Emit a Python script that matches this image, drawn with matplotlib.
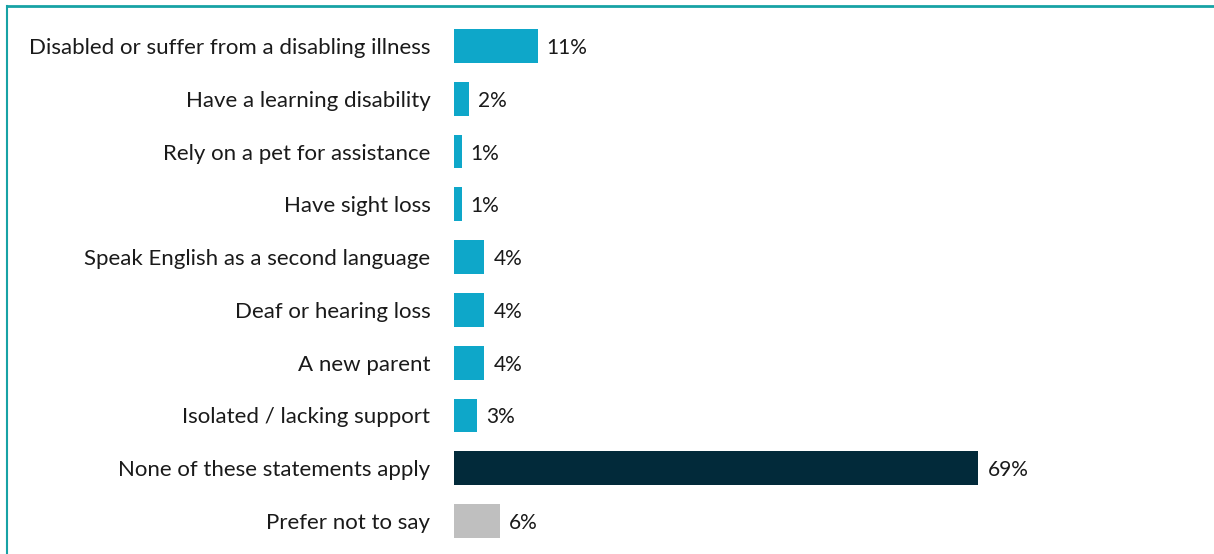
import matplotlib.pyplot as plt
from matplotlib.lines import Line2D

labels = ["Disabled or suffer from a disabling illness", "Have a learning disability",
          "Rely on a pet for assistance", "Have sight loss",
          "Speak English as a second language", "Deaf or hearing loss",
          "A new parent", "Isolated / lacking support",
          "None of these statements apply", "Prefer not to say"]
values = [11, 2, 1, 1, 4, 4, 4, 3, 69, 6]
colors = ["#0ea7c9"] * 8 + ["#022a3a", "#bfbfbf"]

plt.rcParams["font.family"] = ["Lato", "DejaVu Sans"]

W, H = 1214, 554
fig = plt.figure(figsize=(W / 100, H / 100), dpi=100)
ax = fig.add_axes([454 / W, (H - 547.4) / H, 760 / W, 527.8 / H])

y = list(range(len(labels)))
ax.barh(y, values, height=0.64, color=colors)
for yi, v in zip(y, values):
    ax.text(v + 1.2, yi, f"{v}%", va="center_baseline", ha="left", fontsize=15, color="#1a1a1a")

ax.set_xlim(0, 100)
ax.set_ylim(len(labels) - 0.5, -0.5)
ax.set_yticks(y)
ax.set_yticklabels(labels, fontsize=16, color="#1a1a1a", va="center_baseline")
ax.tick_params(axis="y", length=0, pad=17)
ax.set_xticks([])
for s in ax.spines.values():
    s.set_visible(False)

# teal frame (top and left)
fig.add_artist(Line2D([7 / W, 1], [1 - 5.5 / H, 1 - 5.5 / H], transform=fig.transFigure,
                      color="#17a2a5", lw=2))
fig.add_artist(Line2D([7 / W, 7 / W], [0, 1 - 5.5 / H], transform=fig.transFigure,
                      color="#17a2a5", lw=1.5))

fig.savefig("out.png", dpi=100)
